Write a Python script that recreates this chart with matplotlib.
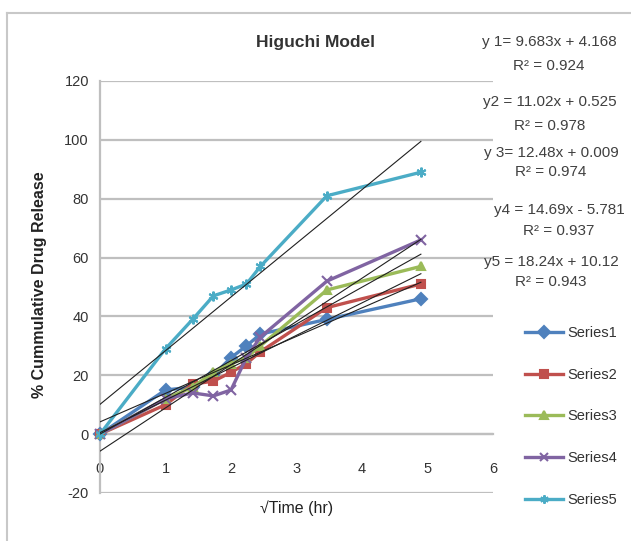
import numpy as np
import matplotlib
matplotlib.use("Agg")
import matplotlib.pyplot as plt
from matplotlib.lines import Line2D

plt.rcParams['font.family'] = ['Liberation Sans Narrow', 'Liberation Sans', 'DejaVu Sans']
plt.rcParams['axes.unicode_minus'] = False

# sqrt(time) values
sqrt_time = [0, 1, 1.414, 1.732, 2, 2.236, 2.449, 3.464, 4.899]

series1 = [0, 15, 16, 20, 26, 30, 34, 39, 46]
series2 = [0, 10, 17, 18, 21, 24, 28, 43, 51]
series3 = [0, 12, 16, 21, 24, 26, 30, 49, 57]
series4 = [0, 12, 14, 13, 15, 26, 33, 52, 66]
series5 = [0, 29, 39, 47, 49, 51, 57, 81, 89]

names = ['Series1', 'Series2', 'Series3', 'Series4', 'Series5']
colors = ['#4F81BD', '#C0504D', '#9BBB59', '#8064A2', '#4BACC6']
markers = ['D', 's', '^', 'x', (6, 2, 0)]

slopes = [9.683, 11.02, 12.48, 14.69, 18.24]
intercepts = [4.168, 0.525, 0.009, -5.781, 10.12]
equations = ['y 1= 9.683x + 4.168', 'y2 = 11.02x + 0.525', 'y 3= 12.48x + 0.009',
             'y4 = 14.69x - 5.781', 'y5 = 18.24x + 10.12']
r2 = ['R² = 0.924', 'R² = 0.978', 'R² = 0.974', 'R² = 0.937', 'R² = 0.943']

x_ticks = [0, 1, 2, 3, 4, 5, 6]
y_ticks = [-20, 0, 20, 40, 60, 80, 100, 120]

W, H = 631, 541
fig = plt.figure(figsize=(W / 100, H / 100), dpi=100)
ax = fig.add_axes([100 / W, 1 - 493 / H, 393 / W, 412 / H])

grid_c = '#bfbfbf'
ax.set_xlim(0, 6)
ax.set_ylim(-20, 120)
ax.set_yticks(y_ticks)
ax.set_xticks(x_ticks)
ax.yaxis.grid(True, color=grid_c, lw=1.6)
ax.set_axisbelow(True)
for s in ['top', 'right']:
    ax.spines[s].set_visible(False)
ax.spines['left'].set_color(grid_c)
ax.spines['left'].set_linewidth(1.6)
ax.spines['bottom'].set_position(('data', 0))
ax.spines['bottom'].set_color(grid_c)
ax.spines['bottom'].set_linewidth(1.6)
ax.tick_params(axis='both', length=0, labelsize=10.5, labelcolor='#333333')
ax.tick_params(axis='y', pad=8)
ax.tick_params(axis='x', pad=20)

all_series = [series1, series2, series3, series4, series5]
handles = []
for ys, c, m, name in zip(all_series, colors, markers, names):
    ms = 7 if m in ('x', (6, 2, 0)) else 6
    ax.plot(sqrt_time, ys, color=c, lw=2.4, marker=m, ms=ms, mew=1.5,
            mec=c, mfc=c, zorder=3, clip_on=False)
    handles.append(Line2D([], [], color=c, lw=2.4, marker=m, ms=6, mew=1.5, mec=c, mfc=c, label=name))

# trend lines
xt = np.array([0, sqrt_time[-1]])
for a, b in zip(slopes, intercepts):
    ax.plot(xt, a * xt + b, color='#202020', lw=0.8, zorder=4)

fig.text(315 / W, 1 - 42 / H, 'Higuchi Model', ha='center', va='center',
         fontsize=12.5, fontweight='bold', color='#333333')
fig.text(40 / W, 1 - 285 / H, '% Cummulative Drug Release', rotation=90,
         ha='center', va='center', fontsize=11.5, fontweight='bold', color='#222222')
fig.text(297 / W, 1 - 508 / H, '\u221aTime (hr)', ha='center', va='center',
         fontsize=11.5, color='#222222')

eq_x = [549, 550, 551, 559, 551]
eq_y = [42, 102, 153, 210, 262]
r2_y = [66, 126, 172, 231, 282]
for ex, ey, ry, e, r in zip(eq_x, eq_y, r2_y, equations, r2):
    fig.text(ex / W, 1 - ey / H, e, ha='center', va='center', fontsize=11, color='#404040')
    fig.text(ex / W, 1 - ry / H, r, ha='center', va='center', fontsize=11, color='#404040')

fig.legend(handles=handles, loc='upper left', bbox_to_anchor=(525 / W, 1 - 326 / H),
           frameon=False, fontsize=10.5, handlelength=2.6, handletextpad=0.3,
           labelspacing=1.9, borderpad=0, borderaxespad=0, labelcolor='#333333')

# outer chart border
fig.add_artist(Line2D([7 / W, 1.0], [1 - 13 / H, 1 - 13 / H], color='#c8c8c8', lw=1.5))
fig.add_artist(Line2D([7 / W, 7 / W], [0, 1 - 13 / H], color='#c8c8c8', lw=1.5))

fig.savefig('out.png', dpi=100)
